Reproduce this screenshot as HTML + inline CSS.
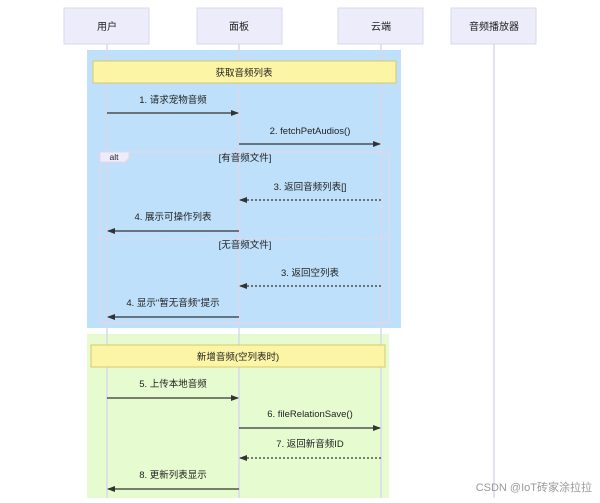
<!DOCTYPE html>
<html><head><meta charset="utf-8"><style>
body{margin:0;width:600px;height:498px;background:#fff;overflow:hidden;font-family:"Liberation Sans","Noto Sans CJK SC",sans-serif;}
</style></head><body>
<svg width="600" height="498" xmlns="http://www.w3.org/2000/svg" font-family="Liberation Sans, Noto Sans CJK SC, sans-serif" font-size="9.5">
<defs>
<marker id="a" markerWidth="8" markerHeight="8" refX="7" refY="4" orient="auto" markerUnits="userSpaceOnUse"><path d="M0,1 L8,4 L0,7 z" fill="#333"/></marker>
</defs>
<rect x="87" y="50" width="314" height="278" fill="#bfe0fb"/>
<rect x="87" y="334" width="302" height="164" fill="#e6fcd0"/>
<g stroke="#d8d8ec" stroke-width="1.5">
<line x1="107" y1="44" x2="107" y2="498"/><line x1="239" y1="44" x2="239" y2="498"/>
<line x1="381" y1="44" x2="381" y2="498"/><line x1="494" y1="44" x2="494" y2="498"/>
</g>
<g fill="#ececfb" stroke="#d8d8ec">
<rect x="64" y="8" width="85" height="36"/><rect x="197" y="8" width="85" height="36"/>
<rect x="338" y="8" width="85" height="36"/><rect x="451" y="8" width="85" height="36"/>
</g>
<g text-anchor="middle" fill="#222" font-size="10">
<text x="107" y="30">用户</text><text x="239" y="30">面板</text><text x="381" y="30">云端</text><text x="494" y="30">音频播放器</text>
</g>
<rect x="93" y="61" width="303" height="22" fill="#fdf5a6" stroke="#d9c86a"/>
<text x="244" y="76" text-anchor="middle" fill="#222">获取音频列表</text>
<rect x="100" y="152" width="289" height="171" fill="none" stroke="#e8d4e4"/>
<path d="M100,152 H129 V158 L125,162 H100 z" fill="#ececfb" stroke="#e8d4e4"/>
<text x="114" y="160" text-anchor="middle" fill="#222" font-size="8.5">alt</text>
<line x1="100" y1="239" x2="389" y2="239" stroke="#e8d4e4" stroke-dasharray="3,2"/>
<rect x="91" y="345" width="294" height="22" fill="#fdf5a6" stroke="#d9c86a"/>
<text x="238" y="360" text-anchor="middle" fill="#222">新增音频(空列表时)</text>
<g stroke="#333" stroke-width="1.2">
<line x1="107" y1="113" x2="238" y2="113" marker-end="url(#a)"/>
<line x1="239" y1="144" x2="380" y2="144" marker-end="url(#a)"/>
<line x1="381" y1="200" x2="240" y2="200" stroke-dasharray="2,2" marker-end="url(#a)"/>
<line x1="239" y1="231" x2="108" y2="231" marker-end="url(#a)"/>
<line x1="381" y1="286" x2="240" y2="286" stroke-dasharray="2,2" marker-end="url(#a)"/>
<line x1="239" y1="317" x2="108" y2="317" marker-end="url(#a)"/>
<line x1="107" y1="398" x2="238" y2="398" marker-end="url(#a)"/>
<line x1="239" y1="428" x2="380" y2="428" marker-end="url(#a)"/>
<line x1="381" y1="458" x2="240" y2="458" stroke-dasharray="2,2" marker-end="url(#a)"/>
<line x1="239" y1="489" x2="108" y2="489" marker-end="url(#a)"/>
</g>
<g text-anchor="middle" fill="#222">
<text x="173" y="103">1. 请求宠物音频</text>
<text x="310" y="134">2. fetchPetAudios()</text>
<text x="245" y="161">[有音频文件]</text>
<text x="310" y="190">3. 返回音频列表[]</text>
<text x="173" y="220">4. 展示可操作列表</text>
<text x="245" y="248">[无音频文件]</text>
<text x="310" y="276">3. 返回空列表</text>
<text x="173" y="306">4. 显示"暂无音频"提示</text>
<text x="173" y="387">5. 上传本地音频</text>
<text x="310" y="417">6. fileRelationSave()</text>
<text x="310" y="447">7. 返回新音频ID</text>
<text x="173" y="478">8. 更新列表显示</text>
</g>
<text x="592" y="491" text-anchor="end" fill="#999" font-size="11">CSDN @IoT砖家涂拉拉</text>
</svg>
</body></html>
